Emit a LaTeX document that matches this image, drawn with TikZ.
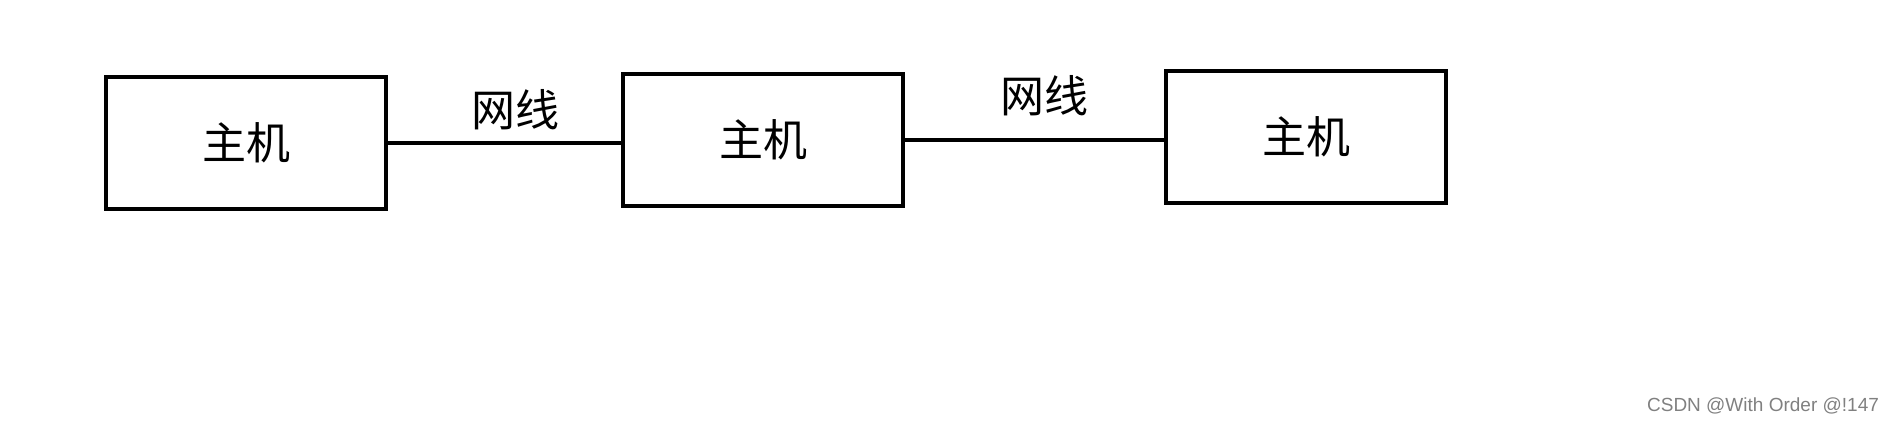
\documentclass[tikz,border=0pt]{standalone}
\usepackage{fontspec}
\newfontfamily\cjk{Noto Sans CJK SC}
\newfontfamily\wmfont{Liberation Sans}
\tikzset{
  host/.style={draw, line width=2pt, minimum width=140pt, minimum height=66pt, inner sep=0pt, font=\cjk\fontsize{22}{22}\selectfont},
  cable/.style={draw, line width=2pt},
  cablelabel/.style={font=\cjk\fontsize{22}{22}\selectfont}
}
\begin{document}
\begin{tikzpicture}[x=0.5pt,y=-0.5pt]
\useasboundingbox (0,0) rectangle (1891,423);

\node[host] (a) at (246,143) {主机};
\node[host] (b) at (763,139.5) {主机};
\node[host] (c) at (1306,137) {主机};

%cables
\path[cable] (a.east) -- (a.east -| b.west);
\path[cable] (b.east) -- (b.east -| c.west);
\node[cablelabel] (l1) at (515,110) {网线};
\node[cablelabel] (l2) at (1044,96) {网线};

\node[font=\wmfont\fontsize{9.5}{9.5}\selectfont, text=gray] (wm) at (1763,406) {CSDN @With Order @!147};
\end{tikzpicture}
\end{document}
